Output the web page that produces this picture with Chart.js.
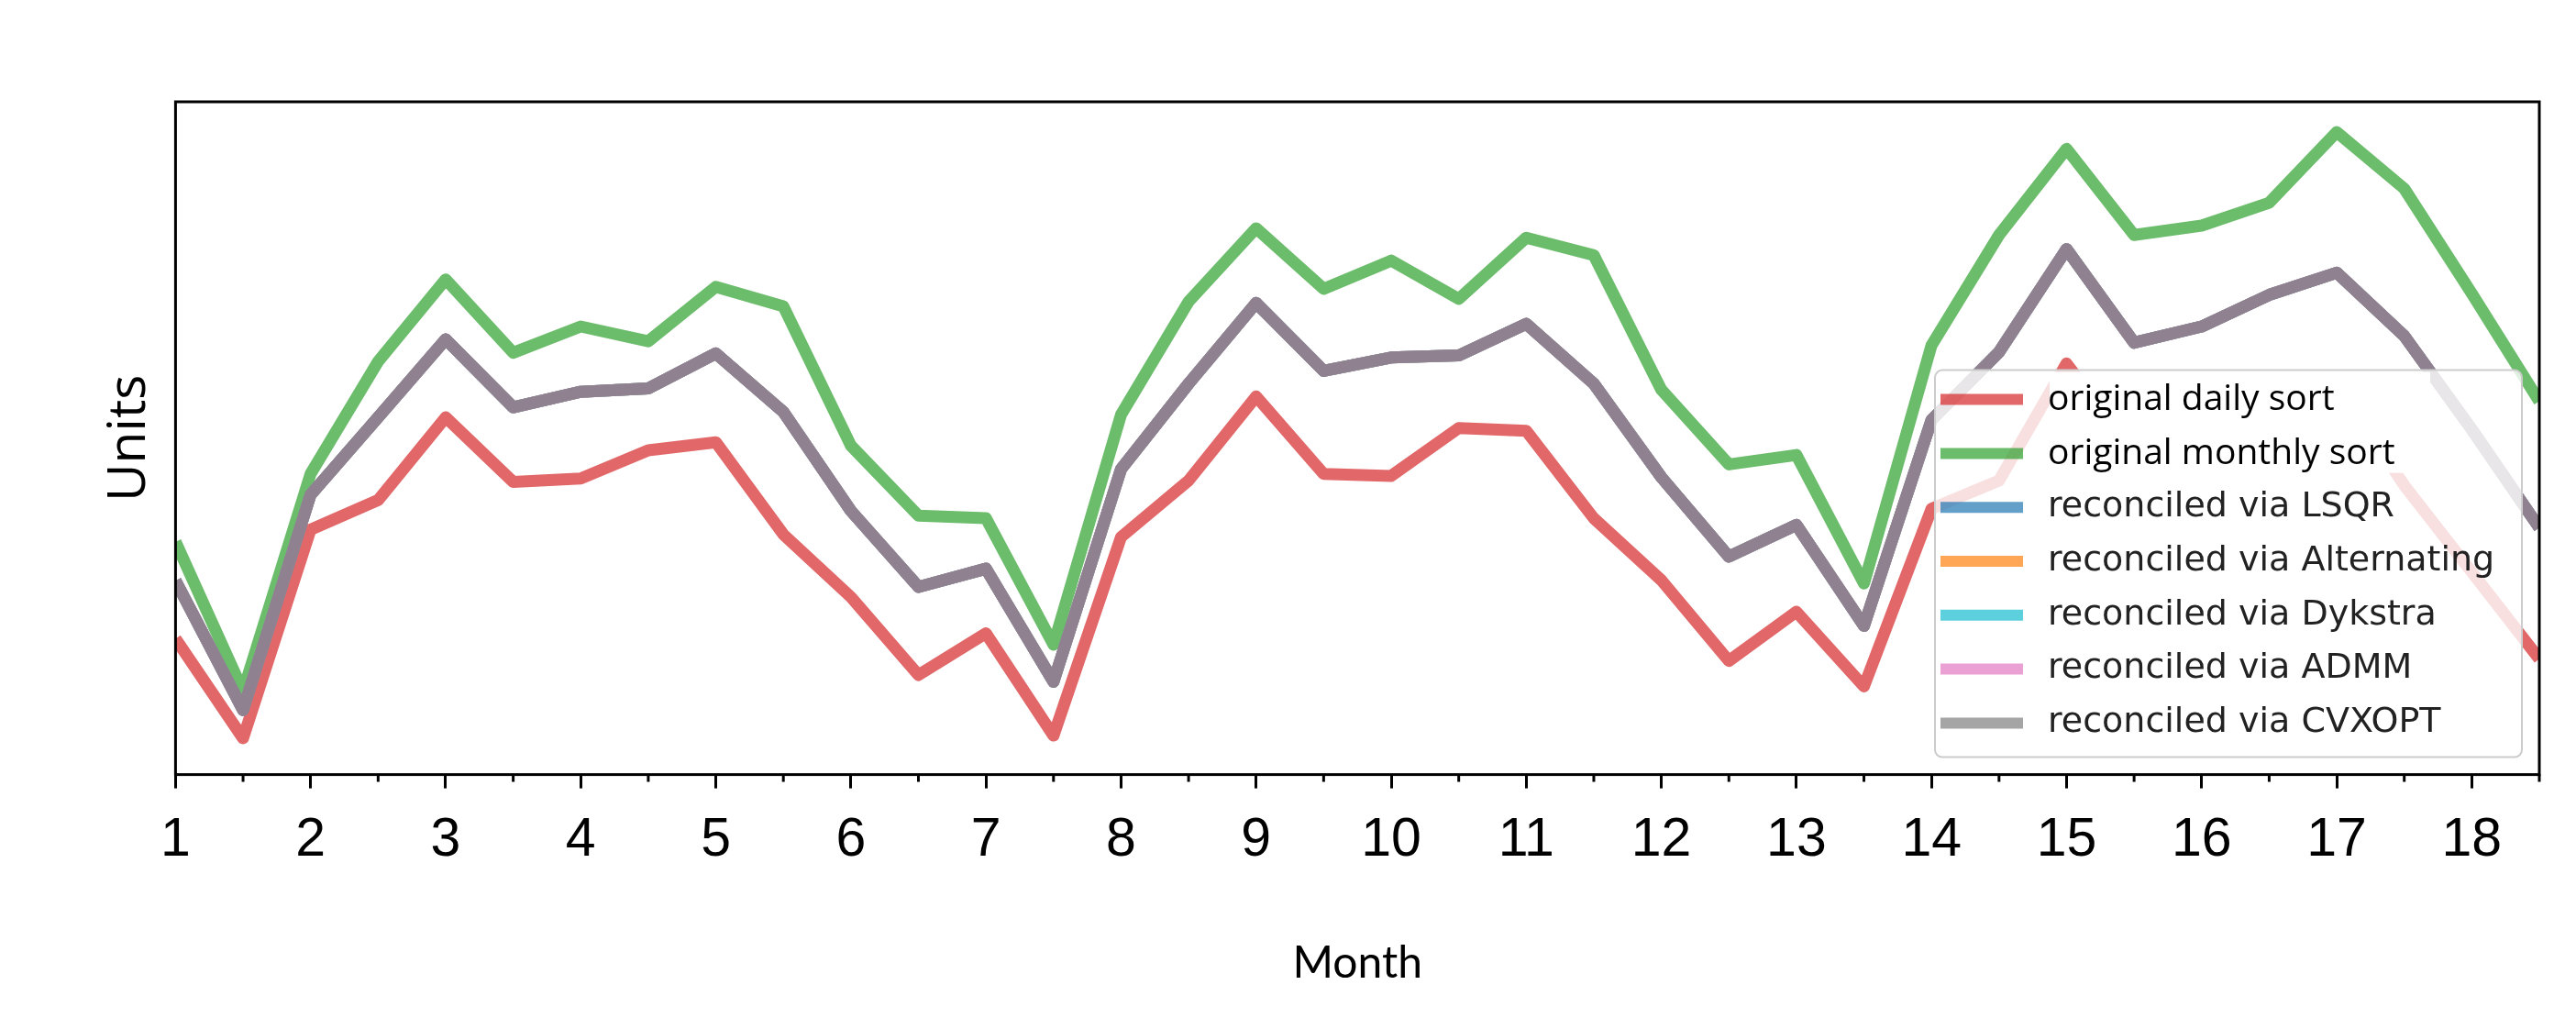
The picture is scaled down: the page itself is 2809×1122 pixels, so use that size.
<!DOCTYPE html>
<html>
<head>
<meta charset="utf-8">
<script src="https://cdn.jsdelivr.net/npm/chart.js@4.4.1/dist/chart.umd.min.js"></script>
<style>
  html, body { margin: 0; padding: 0; background: #fff; }
  canvas { display: block; }
</style>
</head>
<body>
<canvas id="chart" width="2809" height="1122"></canvas>
<script>
// half-month sample points
var months = [1, 1.5, 2, 2.5, 3, 3.5, 4, 4.5, 5, 5.5, 6, 6.5,
              7, 7.5, 8, 8.5, 9, 9.5, 10, 10.5, 11, 11.5, 12, 12.5,
              13, 13.5, 14, 14.5, 15, 15.5, 16, 16.5, 17, 17.5, 18, 18.5];

var dailySort = [20.2, 5.4, 36.4, 40.8, 53.1, 43.5, 44.0, 48.2, 49.4, 35.7, 26.4, 14.8,
                 21.0, 5.8, 35.3, 43.7, 56.2, 44.7, 44.4, 51.5, 51.1, 38.1, 28.9, 16.9,
                 24.2, 13.1, 39.5, 43.7, 61.1, 48.0, 49.5, 55.0, 58.0, 43.0, 30.1, 17.2];

var monthlySort = [34.6, 12.4, 44.7, 61.4, 73.6, 62.7, 66.6, 64.4, 72.5, 69.6, 48.9, 38.5,
                   38.1, 19.3, 53.5, 70.3, 81.2, 72.2, 76.4, 70.7, 79.8, 77.2, 57.2, 46.1,
                   47.5, 28.4, 63.8, 80.2, 93.0, 80.2, 81.6, 85.0, 95.5, 87.1, 71.5, 55.5];

// all five reconciliation methods land on the same curve
var reconciled = [28.8, 9.6, 41.6, 53.1, 64.7, 54.6, 56.9, 57.4, 62.6, 53.9, 39.2, 27.9,
                  30.6, 13.8, 45.4, 58.1, 70.1, 60.0, 62.0, 62.3, 67.0, 58.1, 44.2, 32.4,
                  37.1, 22.1, 52.7, 62.8, 78.1, 64.2, 66.6, 71.3, 74.6, 65.2, 51.3, 36.7];

var seriesLabels = ['original daily sort', 'original monthly sort', 'reconciled via LSQR',
                    'reconciled via Alternating', 'reconciled via Dykstra', 'reconciled via ADMM',
                    'reconciled via CVXOPT'];

var lineColors = ['rgba(214,39,40,0.7)', 'rgba(44,160,44,0.7)', 'rgba(31,119,180,0.7)',
                  'rgba(255,127,14,0.7)', 'rgba(23,190,207,0.7)', 'rgba(227,119,194,0.7)',
                  'rgba(127,127,127,0.7)'];

function pts(values) {
    return values.map(function (v, i) { return { x: months[i], y: v }; });
}

var datasets = seriesLabels.map(function (label, i) {
    var values = i === 0 ? dailySort : (i === 1 ? monthlySort : reconciled);
    return {
        label: label,
        data: pts(values),
        borderColor: lineColors[i],
        backgroundColor: lineColors[i],
        borderWidth: 13,
        pointRadius: 0,
        borderJoinStyle: 'round',
        clip: 0,
        // later series are painted on top, like the original plot
        order: seriesLabels.length - 1 - i
    };
});

// box around the axes + short ticks at the half months
var framePlugin = {
    id: 'frame',
    afterDatasetsDraw: function (chart) {
        var a = chart.chartArea, ctx = chart.ctx, xs = chart.scales.x;
        ctx.save();
        ctx.strokeStyle = '#000';
        ctx.lineWidth = 3;
        ctx.strokeRect(a.left, a.top, a.right - a.left, a.bottom - a.top);
        ctx.beginPath();
        months.forEach(function (m) {
            if (m % 1 === 0) return;
            var px = xs.getPixelForValue(m);
            ctx.moveTo(px, a.bottom);
            ctx.lineTo(px, a.bottom + 8);
        });
        ctx.stroke();
        ctx.restore();
    }
};

var legendPlugin = {
    id: 'boxLegend',
    afterDraw: function (chart) {
        var a = chart.chartArea, ctx = chart.ctx;
        var bx = a.right - 659, by = a.bottom - 441, bw = 640, bh = 422;
        ctx.save();
        ctx.beginPath();
        ctx.roundRect(bx, by, bw, bh, 8);
        ctx.fillStyle = 'rgba(255,255,255,0.8)';
        ctx.fill();
        ctx.strokeStyle = '#cccccc';
        ctx.lineWidth = 2;
        ctx.stroke();
        // the first two labels sit on a solid white patch
        ctx.fillStyle = '#fff';
        ctx.fillRect(bx + 125, by + 2, 415, 110);
        ctx.textBaseline = 'middle';
        chart.data.datasets.forEach(function (ds, i) {
            var y = by + 32 + i * 58.8;
            ctx.strokeStyle = ds.borderColor;
            ctx.lineWidth = 12;
            ctx.beginPath();
            ctx.moveTo(bx + 6, y);
            ctx.lineTo(bx + 96, y);
            ctx.stroke();
            ctx.font = i < 2 ? '39px "Open Sans"' : '38px "DejaVu Sans"';
            ctx.fillStyle = i < 2 ? '#000' : '#222';
            ctx.fillText(ds.label, bx + 123, y);
        });
        ctx.restore();
    }
};

new Chart(document.getElementById('chart').getContext('2d'), {
    type: 'line',
    data: { datasets: datasets },
    options: {
        responsive: false,
        animation: false,
        devicePixelRatio: 1,
        layout: { padding: { left: 108, right: 40, top: 111, bottom: 43 } },
        plugins: {
            legend: { display: false },
            tooltip: { enabled: false }
        },
        scales: {
            x: {
                type: 'linear',
                min: 1,
                max: 18.5,
                border: { display: false },
                grid: { display: true, drawOnChartArea: false, drawTicks: true,
                        tickLength: 15, tickWidth: 3, tickColor: '#000' },
                ticks: { stepSize: 1, includeBounds: false, padding: 22, color: '#000',
                         maxRotation: 0, autoSkip: false,
                         font: { family: 'Liberation Sans', size: 59 } },
                title: { display: true, text: 'Month', color: '#000',
                         font: { family: 'Lato', size: 48 },
                         padding: { top: 47, bottom: 0 } }
            },
            y: {
                min: 0,
                max: 100,
                border: { display: false },
                grid: { display: false, drawTicks: false },
                ticks: { display: false },
                title: { display: true, text: 'Units', color: '#000',
                         font: { family: 'Open Sans', size: 57 },
                         padding: { top: 0, bottom: 15 } }
            }
        }
    },
    plugins: [framePlugin, legendPlugin]
});
</script>
</body>
</html>
